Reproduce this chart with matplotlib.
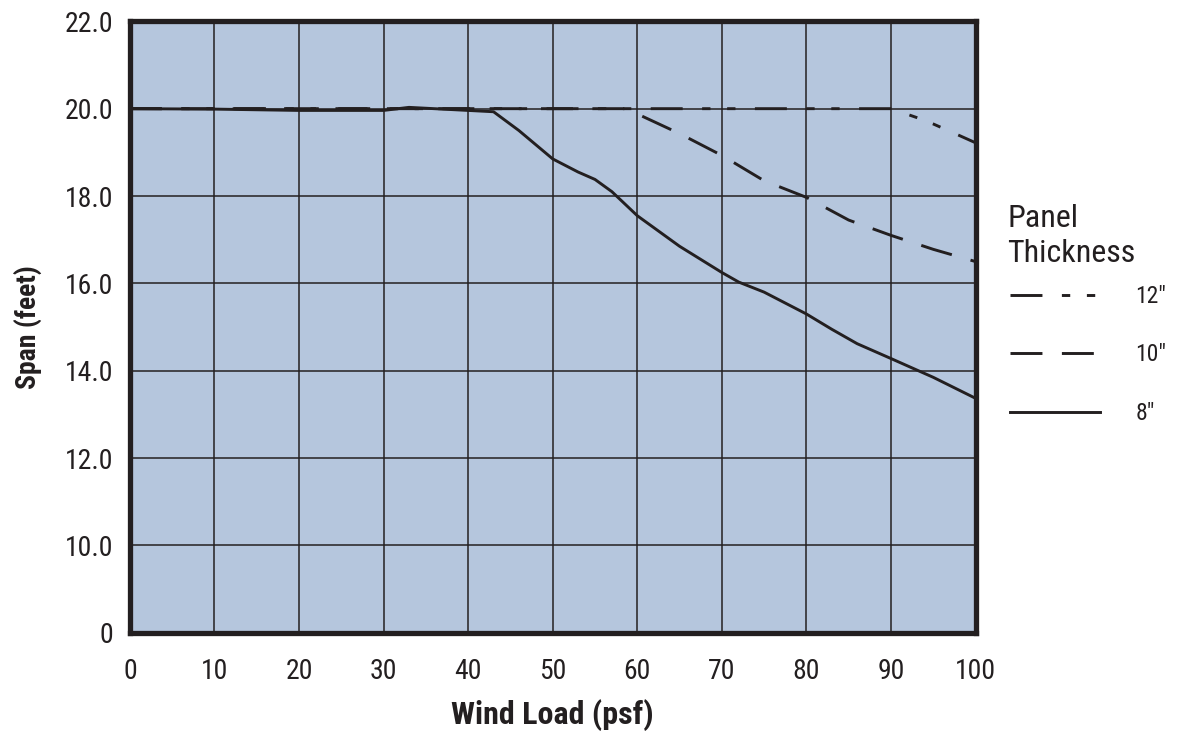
import matplotlib.pyplot as plt
import matplotlib.font_manager as fm
import numpy as np

plt.rcParams['lines.scale_dashes'] = False
names = {f.name for f in fm.fontManager.ttflist}
cond = next(n for n in ['Roboto Condensed', 'Barlow Condensed', 'Asap Condensed',
                        'Archivo Narrow', 'Liberation Sans'] if n in names)
plt.rcParams['font.family'] = [cond, 'DejaVu Sans']

# wind load (psf) vs span (feet)
x_8 = [0, 10, 20, 30, 33, 38, 43, 46, 50, 53, 55, 57, 60, 65, 70, 72, 75, 80, 83, 86, 88, 90, 95, 100]
y_8 = [20.0, 19.99, 19.96, 19.96, 20.03, 19.98, 19.93, 19.5, 18.85, 18.55, 18.38, 18.1, 17.55,
       16.85, 16.25, 16.03, 15.8, 15.3, 14.95, 14.62, 14.45, 14.28, 13.85, 13.37]
x_10 = [0, 30, 58.5, 60, 65, 70, 75, 80, 85, 90, 95, 100]
y_10 = [20.0, 20.0, 20.0, 19.88, 19.43, 18.93, 18.35, 17.97, 17.45, 17.1, 16.78, 16.5]
x_12 = [0, 50, 90, 93, 95, 97, 100]
y_12 = [20.0, 20.0, 20.0, 19.8, 19.65, 19.48, 19.22]

# broken axis: the bottom gridline is labelled 0
y_ticks = [8, 10, 12, 14, 16, 18, 20, 22]
y_labels = ['0', '10.0', '12.0', '14.0', '16.0', '18.0', '20.0', '22.0']
x_ticks = list(range(0, 101, 10))

dark = '#231f20'
fig = plt.figure(figsize=(11.81, 7.35), dpi=100)
ax = fig.add_axes([0.110, 0.139, 0.716, 0.832])
ax.set_facecolor('#b5c6dd')

ax.plot(x_12, y_12, color=dark, lw=2.1, dashes=(23, 14, 6, 12, 6, 14), label='12"')
ax.plot(x_10, y_10, color=dark, lw=2.1, dashes=(23, 14), label='10"')
ax.plot(x_8, y_8, color=dark, lw=2.1, label='8"')

ax.set_xlim(0, 100)
ax.set_ylim(8, 22)
ax.set_xticks(x_ticks)
ax.set_yticks(y_ticks)
ax.set_yticklabels(y_labels)
ax.tick_params(length=0, labelsize=20, colors=dark)
ax.tick_params(axis='x', pad=18)
ax.tick_params(axis='y', pad=12)
ax.grid(True, color=dark, lw=1.1)
ax.set_axisbelow(True)
for s in ax.spines.values():
    s.set_linewidth(3.8)
    s.set_color(dark)

ax.set_xlabel('Wind Load (psf)', fontsize=23, fontweight='bold', color=dark, labelpad=10)
ax.set_ylabel('Span (feet)', fontsize=20, fontweight='bold', color=dark, labelpad=16)

# legend title as plain text, entries as a legend below it
fig.text(0.8527, 0.6912, 'Panel', fontsize=23, color=dark, va='baseline')
fig.text(0.8527, 0.6435, 'Thickness', fontsize=23, color=dark, va='baseline')
handles, labels = ax.get_legend_handles_labels()
leg = ax.legend(handles, labels, fontsize=17, frameon=False, loc='upper left',
                bbox_to_anchor=(0.8552, 0.6122), bbox_transform=fig.transFigure,
                borderpad=0, borderaxespad=0,
                handlelength=3.8, handletextpad=1.5, labelspacing=1.5)
for t in leg.get_texts():
    t.set_color(dark)

plt.savefig('out.png', dpi=100)
